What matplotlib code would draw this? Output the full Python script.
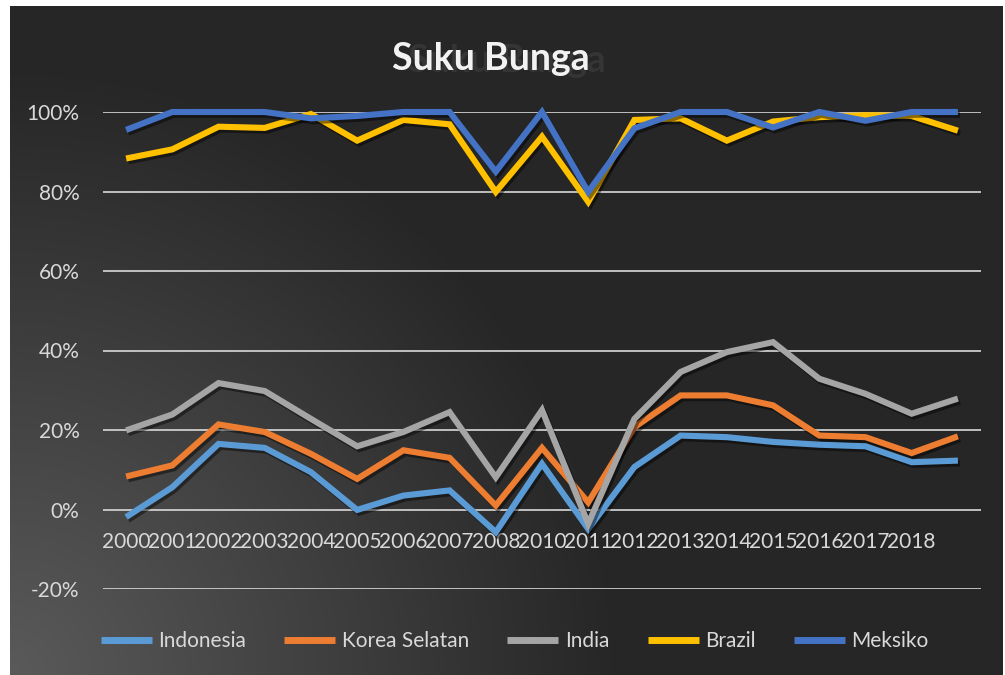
import numpy as np
import matplotlib
matplotlib.use('Agg')
import matplotlib.pyplot as plt
import matplotlib.patheffects as pe
from matplotlib.ticker import PercentFormatter

plt.rcParams['font.family'] = ['Lato', 'DejaVu Sans']
plt.rcParams['axes.unicode_minus'] = False

# data (in %)
years = ['2000', '2001', '2002', '2003', '2004', '2005', '2006', '2007', '2008',
         '2010', '2011', '2012', '2013', '2014', '2015', '2016', '2017', '2018', '']
indonesia = [-1.9, 5.6, 16.5, 15.5, 9.4, -0.1, 3.5, 4.8, -5.7, 11.5, -4.9, 10.7,
             18.6, 18.2, 17.0, 16.3, 15.9, 11.9, 12.3]
korea = [8.3, 11.1, 21.4, 19.5, 14.0, 7.7, 14.9, 13.0, 1.0, 15.5, 1.8, 20.7,
         28.7, 28.7, 26.2, 18.6, 18.2, 14.2, 18.4]
india = [19.9, 23.9, 31.8, 29.8, 22.8, 15.9, 19.5, 24.5, 8.1, 25.0, -3.6, 22.8,
         34.6, 39.6, 42.1, 32.9, 29.1, 24.1, 27.9]
brazil = [88.3, 90.6, 96.3, 96.0, 99.5, 92.8, 98.0, 96.9, 79.9, 93.8, 77.4, 98.0,
          98.4, 92.8, 97.6, 98.7, 99.2, 99.0, 95.3]
meksiko = [95.5, 100, 100, 100, 98.4, 99.0, 100, 100, 85.0, 100, 79.9, 95.9,
           100, 100, 96.1, 100, 97.8, 100, 100]

series = [('Indonesia', indonesia, '#5B9BD5'),
          ('Korea Selatan', korea, '#ED7D31'),
          ('India', india, '#A5A5A5'),
          ('Brazil', brazil, '#FFC000'),
          ('Meksiko', meksiko, '#4472C4')]

W, H = 1005, 675
fig = plt.figure(figsize=(W / 100, H / 100), dpi=100)
fig.patch.set_facecolor('white')

# dark gradient chart area, lighter toward the bottom-left corner
bg = fig.add_axes([10 / W, 0, (W - 12) / W, (H - 6) / H])
bg.axis('off')
gx, gy = np.meshgrid(np.arange(W - 12), np.arange(H - 6))
d = np.hypot(gx, (H - 6) - gy)
c = np.clip(90 - d * 0.085, 38, 255) / 255
bg.imshow(np.dstack([c, c, c]), aspect='auto', interpolation='bilinear')

ax = fig.add_axes([103 / W, (H - 589) / H, (981 - 103) / W, (589 - 112) / H])
ax.set_facecolor('none')
x = np.arange(len(years))
shadow = [pe.SimpleLineShadow(offset=(1.5, -2), shadow_color='black', alpha=0.45), pe.Normal()]
for name, vals, col in series:
    ax.plot(x, vals, color=col, lw=4.4, label=name, clip_on=False,
            solid_joinstyle='miter', solid_capstyle='butt', path_effects=shadow, zorder=3)

ax.set_xlim(-0.5, len(years) - 0.5)
ax.set_ylim(-20, 100)
ax.set_yticks(np.arange(-20, 101, 20))
ax.yaxis.set_major_formatter(PercentFormatter(decimals=0))
ax.grid(axis='y', color='#d9d9d9', lw=1.2)
ax.set_axisbelow(True)
for s in ['top', 'right', 'left']:
    ax.spines[s].set_visible(False)
# category labels sit under the 0% line, as in Excel
ax.spines['bottom'].set_position(('data', 0))
ax.spines['bottom'].set_visible(False)
ax.set_xticks(x)
ax.set_xticklabels(years)
ax.tick_params(axis='x', length=0, pad=16, labelsize=15, labelcolor='#d9d9d9')
ax.tick_params(axis='y', length=0, pad=17, labelsize=15, labelcolor='#d9d9d9')

# title with its offset shadow
fig.text(0.504, 0.910, 'Suku Bunga', fontsize=27, fontweight='bold', color='#353535',
         ha='center', va='center')
fig.text(0.488, 0.913, 'Suku Bunga', fontsize=27, fontweight='bold', color='#f2f2f2',
         ha='center', va='center')

leg = fig.legend(loc='center', bbox_to_anchor=(0.512, 0.05), ncol=5, frameon=False,
                 fontsize=15, handlelength=2.45, handletextpad=0.3, columnspacing=1.85,
                 labelcolor='#d9d9d9')
for h in leg.legend_handles:
    h.set_linewidth(5)
    h.set_path_effects([])

fig.savefig('out.png', dpi=100)
